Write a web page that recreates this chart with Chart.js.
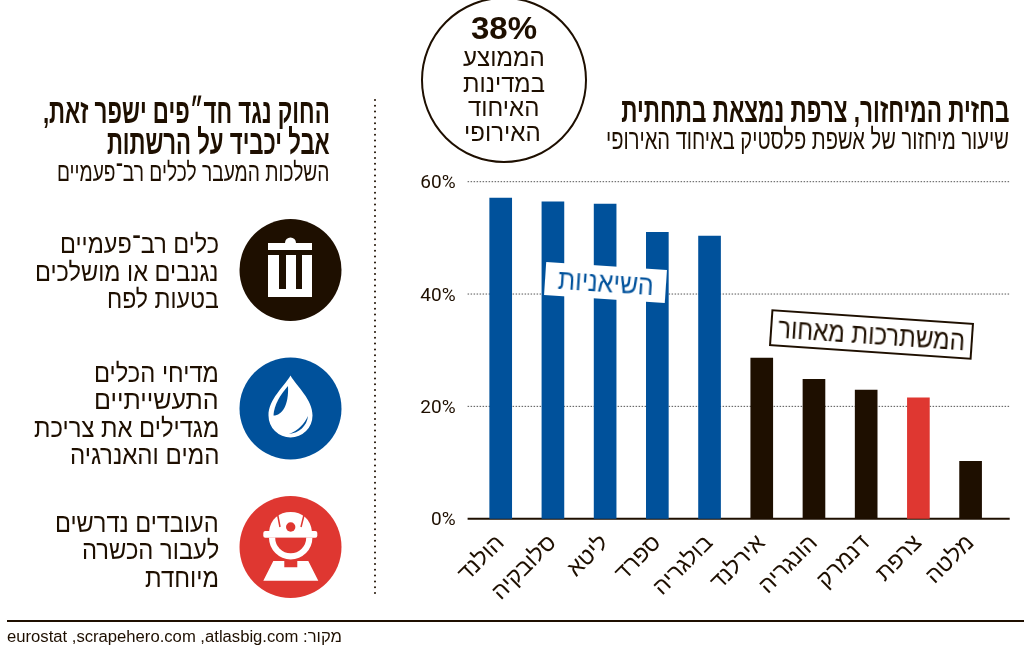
<!DOCTYPE html>
<html lang="he">
<head>
<meta charset="utf-8">
<script src="https://cdn.jsdelivr.net/npm/chart.js@4"></script>
<style>
    html, body { margin: 0; padding: 0; background: #fff; }
    #page { position: relative; width: 1024px; height: 652px; overflow: hidden; font-family: "Liberation Sans", sans-serif; color: #1e0f00; }
    #chartBox { position: absolute; left: 0; top: 0; width: 1024px; height: 652px; }
    .line { position: absolute; direction: rtl; white-space: nowrap; line-height: 1.2; transform-origin: right center; }
    .head { font-size: 34px; font-weight: bold; }
    .sub { font-size: 28px; }
    .item { font-size: 26px; }
    .bubble { font-size: 25px; }
    .tag { position: absolute; box-sizing: border-box; background: #fff; direction: rtl; white-space: nowrap; font-size: 28px; display: flex; justify-content: center; align-items: center; }
    .tag span { display: block; flex: none; }
    #bubbleCircle { position: absolute; left: 421px; top: -3px; width: 166px; height: 166px; box-sizing: border-box; border: 2px solid #1e0f00; border-radius: 50%; }
    #footRule { position: absolute; left: 7px; right: 0; top: 620px; height: 2px; background: #1e0f00; }
    svg { position: absolute; left: 0; top: 0; }
</style>
</head>
<body>
<div id="page">
    <div id="chartBox"><canvas id="recyclingChart"></canvas></div>

    <div id="bubbleCircle"></div>
    <div class="line" style="right:487px;top:27px;font-size:31px;font-weight:bold;direction:ltr" data-w="66">38%</div>
    <div class="line bubble" style="right:479px;top:55px" data-w="82">הממוצע</div>
    <div class="line bubble" style="right:479px;top:81px" data-w="82">במדינות</div>
    <div class="line bubble" style="right:485px;top:105px" data-w="71">האיחוד</div>
    <div class="line bubble" style="right:483px;top:130px" data-w="77">האירופי</div>

    <div class="line head" style="right:15px;top:109px" data-w="388">בחזית המיחזור, צרפת נמצאת בתחתית</div>
    <div class="line sub" style="right:15px;top:138px" data-w="403">שיעור מיחזור של אשפת פלסטיק באיחוד האירופי</div>

    <div class="tag" style="left:545px;top:266px;width:121px;height:33px;color:#00519b;transform:rotate(3.8deg)"><span data-w="96">השיאניות</span></div>
    <div class="tag" style="left:770px;top:316px;width:203px;height:37px;border:2px solid #1e0f00;transform:rotate(3.9deg)"><span data-w="187">המשתרכות מאחור</span></div>

    <div class="line head" style="right:694px;top:110px" data-w="287">החוק נגד חד״פים ישפר זאת,</div>
    <div class="line head" style="right:694px;top:141px" data-w="223">אבל יכביד על הרשתות</div>
    <div class="line sub" style="right:694px;top:171px;font-size:26px" data-w="273">השלכות המעבר לכלים רב־פעמיים</div>

    <div class="line item" style="right:805px;top:243px" data-w="159">כלים רב־פעמיים</div>
    <div class="line item" style="right:805px;top:271px" data-w="184">נגנבים או מושלכים</div>
    <div class="line item" style="right:805px;top:298px" data-w="112">בטעות לפח</div>

    <div class="line item" style="right:805px;top:372px" data-w="125">מדיחי הכלים</div>
    <div class="line item" style="right:805px;top:399px" data-w="125">התעשייתיים</div>
    <div class="line item" style="right:805px;top:427px" data-w="185">מגדילים את צריכת</div>
    <div class="line item" style="right:805px;top:454px" data-w="149">המים והאנרגיה</div>

    <div class="line item" style="right:805px;top:522px" data-w="164">העובדים נדרשים</div>
    <div class="line item" style="right:805px;top:549px" data-w="137">לעבור הכשרה</div>
    <div class="line item" style="right:805px;top:577px" data-w="74">מיוחדת</div>

    <svg width="1024" height="652">
        <line x1="375" y1="100" x2="375" y2="594" stroke="#1e0f00" stroke-width="2" stroke-linecap="round" stroke-dasharray="0 5.8"/>
        <!-- פח -->
        <circle cx="290.5" cy="270" r="51" fill="#1e0f00"/>
        <path d="M268 243h17a5 5 0 0 1 11 0h16v7h-44z" fill="#fff"/>
        <path d="M268 255h11v34h7v-34h10v34h6v-34h10v42h-44z" fill="#fff"/>
        <!-- טיפה -->
        <circle cx="290.5" cy="408.5" r="51" fill="#00519b"/>
        <path d="M290.5 375.5C297 387 312.5 399 312.5 415.5A22 22 0 0 1 268.5 415.5C268.5 399 284 387 290.5 375.5z" fill="#fff"/>
        <path d="M288 386C280 395 274 405 273.5 415.5C282 415.5 289 405 288 386z" fill="#00519b"/>
        <path d="M308 416C307 426 299 433 289 434C299 430 304 424 308 416z" fill="#00519b"/>
        <!-- עובד -->
        <circle cx="290.5" cy="547" r="51" fill="#df3731"/>
        <path d="M269 532C270 519 279 512 290.7 512C302 512 311 519 312 532z" fill="#fff"/>
        <rect x="263.300" y="531" width="54" height="6.700" rx="2" fill="#fff"/>
        <circle cx="290.700" cy="527" r="4.700" fill="#df3731"/>
        <path d="M277.700 515L280 527M304 515L301 527" stroke="#df3731" stroke-width="1.500" fill="none"/>
        <path d="M269 537.700A21.700 21.700 0 0 0 312.400 537.700z" fill="#fff"/>
        <path d="M275.200 537.700A15.500 15.500 0 0 0 306.200 537.700z" fill="#df3731"/>
        <path d="M273.300 561H284.300V567.300H297.300V561H308.300L318.300 580.700H263.300z" fill="#fff"/>
    </svg>

    <div id="footRule"></div>
    <div class="line" style="right:682px;top:635px;font-size:16px" data-w="335">מקור: atlasbig.com&rlm;, &rlm;scrapehero.com&rlm;, &rlm;eurostat</div>
</div>

<script>
// נתוני התרשים
const categories = ['הולנד', 'סלובקיה', 'ליטא', 'ספרד', 'בולגריה', 'אירלנד', 'הונגריה', 'דנמרק', 'צרפת', 'מלטה'];
const recyclingRates = [57.1, 56.4, 56, 51, 50.3, 28.6, 24.8, 22.9, 21.5, 10.2];
const yTicks = [0, 20, 40, 60];
const leaders = ['הולנד', 'סלובקיה', 'ליטא', 'ספרד', 'בולגריה'];
const highlighted = 'צרפת';

const BLUE = '#00519b';
const DARK = '#1e0f00';
const RED = '#df3731';

// מתיחת כל שורת טקסט לרוחב שלה במקור
document.querySelectorAll('[data-w]').forEach(el => {
    const scale = parseFloat(el.dataset.w) / el.offsetWidth;
    const shift = el.classList.contains('line') ? 'translateY(calc(-50% + 1.5px)) ' : '';
    el.style.transform = `${shift}scaleX(${scale})`;
});

// קווי הרשת חורגים מעט מאזור הגרף
const gridLines = {
    id: 'gridLines',
    beforeDatasetsDraw(chart) {
        const { ctx, chartArea, scales } = chart;
        ctx.save();
        yTicks.forEach(value => {
            const y = scales.y.getPixelForValue(value);
            ctx.beginPath();
            ctx.moveTo(chartArea.left - 7, y);
            ctx.lineTo(chartArea.right + 13, y);
            if (value === 0) {
                ctx.setLineDash([]);
                ctx.lineWidth = 2;
                ctx.strokeStyle = DARK;
            } else {
                ctx.setLineDash([1.5, 1.5]);
                ctx.lineWidth = 1;
                ctx.strokeStyle = '#555';
            }
            ctx.stroke();
        });
        ctx.restore();
    }
};

new Chart(document.getElementById('recyclingChart'), {
    type: 'bar',
    data: {
        labels: categories,
        datasets: [{
            data: recyclingRates,
            backgroundColor: ctx => {
                const name = categories[ctx.dataIndex];
                if (name === highlighted) return RED;
                return leaders.includes(name) ? BLUE : DARK;
            },
            barThickness: 22
        }]
    },
    options: {
        responsive: true,
        maintainAspectRatio: false,
        animation: false,
        layout: { padding: { top: 181.7, right: 27.3, bottom: 0, left: 0 } },
        plugins: { legend: { display: false }, tooltip: { enabled: false } },
        scales: {
            x: {
                grid: { display: false, drawTicks: false },
                border: { display: false },
                afterFit: scale => { scale.height = 133.3; },
                ticks: {
                    autoSkip: false,
                    minRotation: 45,
                    maxRotation: 45,
                    padding: 11,
                    color: DARK,
                    font: { family: '"Liberation Sans"', size: 23 }
                }
            },
            y: {
                min: 0,
                max: 60,
                grid: { display: false, drawTicks: false },
                border: { display: false },
                afterFit: scale => { scale.width = 474.6; },
                afterBuildTicks: scale => { scale.ticks = yTicks.map(value => ({ value })); },
                ticks: {
                    padding: 19,
                    labelOffset: 2,
                    color: DARK,
                    callback: value => value + '%',
                    font: { family: 'Roboto', size: 19 }
                }
            }
        }
    },
    plugins: [gridLines]
});
</script>
</body>
</html>
